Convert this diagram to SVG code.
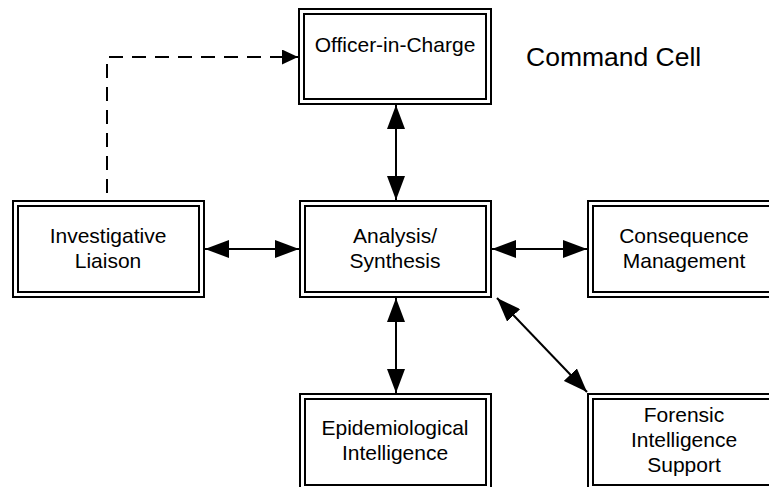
<svg xmlns="http://www.w3.org/2000/svg" width="769" height="487" viewBox="0 0 769 487">
<style>
.box rect{fill:none;stroke:#000;stroke-width:2}
text{font-family:"Liberation Sans",Arial,Helvetica,sans-serif;font-size:21px;fill:#000;text-anchor:middle}
.conn line,.conn path{fill:none;stroke:#000;stroke-width:2}
</style>
<defs>
<marker id="ah" viewBox="0 0 24 18" refX="24" refY="9" markerWidth="24" markerHeight="18" markerUnits="userSpaceOnUse" orient="auto-start-reverse">
<path d="M0,0 L24,9 L0,18 z" fill="#000"/>
</marker>
<marker id="ahs" viewBox="0 0 16 15" refX="16" refY="7.5" markerWidth="16" markerHeight="15" markerUnits="userSpaceOnUse" orient="auto">
<path d="M0,0 L16,7.5 L0,15 z" fill="#000"/>
</marker>
</defs>
<rect width="769" height="487" fill="#fff"/>
<g class="conn">
<line x1="396" y1="105" x2="396" y2="200" marker-start="url(#ah)" marker-end="url(#ah)"/>
<line x1="205" y1="249" x2="299" y2="249" marker-start="url(#ah)" marker-end="url(#ah)"/>
<line x1="492" y1="249" x2="587" y2="249" marker-start="url(#ah)" marker-end="url(#ah)"/>
<line x1="396" y1="298" x2="396" y2="393" marker-start="url(#ah)" marker-end="url(#ah)"/>
<line x1="497" y1="298" x2="587" y2="392" marker-start="url(#ah)" marker-end="url(#ah)"/>
<path d="M107,193 V57 H298" stroke-dasharray="14 9" marker-end="url(#ahs)"/>
</g>
<g id="officer" class="box">
<rect x="299" y="9" width="192" height="95"/>
<rect x="304" y="14" width="182" height="85"/>
<text x="395" y="52">Officer-in-Charge</text>
</g>
<text id="command-cell" x="526" y="66" style="text-anchor:start;font-size:26.5px">Command Cell</text>
<g id="investigative" class="box">
<rect x="13" y="201" width="191" height="96"/>
<rect x="18" y="206" width="181" height="86"/>
<text x="108" y="243">Investigative</text>
<text x="108" y="268">Liaison</text>
</g>
<g id="analysis" class="box">
<rect x="300" y="201" width="191" height="96"/>
<rect x="305" y="206" width="181" height="86"/>
<text x="395" y="243">Analysis/</text>
<text x="395" y="268">Synthesis</text>
</g>
<g id="consequence" class="box">
<rect x="588" y="201" width="192" height="96"/>
<rect x="593" y="206" width="182" height="86"/>
<text x="684" y="243">Consequence</text>
<text x="684" y="268">Management</text>
</g>
<g id="epidemiological" class="box">
<rect x="300" y="394" width="191" height="96"/>
<rect x="305" y="399" width="181" height="86"/>
<text x="395" y="435">Epidemiological</text>
<text x="395" y="460">Intelligence</text>
</g>
<g id="forensic" class="box">
<rect x="588" y="394" width="192" height="96"/>
<rect x="593" y="399" width="182" height="86"/>
<text x="684" y="422">Forensic</text>
<text x="684" y="447">Intelligence</text>
<text x="684" y="472">Support</text>
</g>
</svg>
